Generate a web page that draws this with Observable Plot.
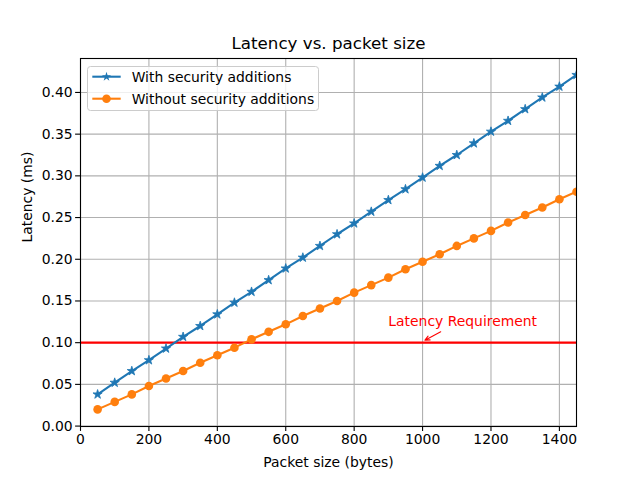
<!DOCTYPE html>
<html>
<head>
<meta charset="utf-8">
<script src="https://cdn.jsdelivr.net/npm/d3@7"></script>
<script src="https://cdn.jsdelivr.net/npm/@observablehq/plot@0.6"></script>
<style>
  html, body { margin: 0; padding: 0; background: white; }
  #wrap { position: relative; width: 640px; height: 480px; font-family: "DejaVu Sans", sans-serif; }
  #legend { position: absolute; left: 87px; top: 66px; }
</style>
</head>
<body>
<div id="wrap"></div>
<script>
// ---- data ----
const packetSizes = [50, 100, 150, 200, 250, 300, 350, 400, 450, 500, 550, 600, 650, 700, 750,
  800, 850, 900, 950, 1000, 1050, 1100, 1150, 1200, 1250, 1300, 1350, 1400, 1450];
const withSecurity = [0.038, 0.052, 0.066, 0.079, 0.093, 0.107, 0.120, 0.134, 0.148, 0.161, 0.175,
  0.189, 0.202, 0.216, 0.230, 0.243, 0.257, 0.271, 0.284, 0.298, 0.312, 0.325, 0.339, 0.353,
  0.366, 0.380, 0.394, 0.407, 0.421];
const withoutSecurity = [0.020, 0.029, 0.038, 0.048, 0.057, 0.066, 0.076, 0.085, 0.094, 0.104, 0.113,
  0.122, 0.132, 0.141, 0.150, 0.160, 0.169, 0.178, 0.188, 0.197, 0.206, 0.216, 0.225, 0.234,
  0.244, 0.253, 0.262, 0.272, 0.281];
const seriesNames = ["With security additions", "Without security additions"];
const xTicks = [0, 200, 400, 600, 800, 1000, 1200, 1400];
const yTicks = [0.00, 0.05, 0.10, 0.15, 0.20, 0.25, 0.30, 0.35, 0.40];
const requirement = [0.10];
const annotationLabel = ["Latency Requirement"];
const annotationTarget = [1007, 0.103];
const annotationTextAt = [900, 0.12];
const arrowFrom = [1053, 0.113];
const titleText = "Latency vs. packet size";
const xLabel = "Packet size (bytes)";
const yLabel = "Latency (ms)";

const blue = "#1f77b4", orange = "#ff7f0e";
const withRows = packetSizes.map((x, i) => ({x, y: withSecurity[i]}));
const withoutRows = packetSizes.map((x, i) => ({x, y: withoutSecurity[i]}));
const annRows = [{x: annotationTextAt[0], y: annotationTextAt[1], text: annotationLabel[0],
  x1: arrowFrom[0], y1: arrowFrom[1], x2: annotationTarget[0], y2: annotationTarget[1]}];

const fs = 13.9;
const chart = Plot.plot({
  width: 640, height: 480,
  marginLeft: 80, marginRight: 64, marginTop: 58, marginBottom: 54,
  x: {domain: [0, 1450]},
  y: {domain: [-0.0005, 0.4407]},
  style: {fontFamily: "DejaVu Sans", fontSize: fs + "px", background: "white", color: "black"},
  marks: [
    Plot.gridX(xTicks, {stroke: "#b0b0b0", strokeOpacity: 1, strokeWidth: 1.1}),
    Plot.gridY(yTicks, {stroke: "#b0b0b0", strokeOpacity: 1, strokeWidth: 1.1}),
    Plot.ruleY(requirement, {stroke: "red", strokeWidth: 2.1}),
    Plot.line(withRows, {x: "x", y: "y", stroke: blue, strokeWidth: 2.1, clip: true}),
    Plot.dot(withRows, {x: "x", y: "y", symbol: "star", r: 2.9, fill: blue, stroke: blue, strokeWidth: 0.8, clip: true}),
    Plot.line(withoutRows, {x: "x", y: "y", stroke: orange, strokeWidth: 2.1, clip: true}),
    Plot.dot(withoutRows, {x: "x", y: "y", r: 4.3, fill: orange, stroke: "none", clip: true}),
    Plot.text(annRows, {x: "x", y: "y", text: "text", fill: "red", textAnchor: "start", lineAnchor: "bottom", fontSize: fs}),
    Plot.arrow(annRows, {x1: "x1", y1: "y1", x2: "x2", y2: "y2", stroke: "red", strokeWidth: 1.1, headLength: 7, headAngle: 50}),
    Plot.frame({stroke: "black", strokeWidth: 1.1}),
    Plot.axisX(xTicks, {tickSize: 4.9, tickPadding: 3, label: null, fontSize: fs, strokeWidth: 1.1, tickFormat: d3.format("d")}),
    Plot.axisY(yTicks, {tickSize: 4.9, tickPadding: 3, label: null, fontSize: fs, strokeWidth: 1.1, tickFormat: d3.format(".2f")}),
    Plot.text([titleText], {frameAnchor: "top", dy: -15, text: d => d, fontSize: 16.7, lineAnchor: "middle"}),
    Plot.text([xLabel], {frameAnchor: "bottom", dy: 36, text: d => d, fontSize: fs, lineAnchor: "middle"}),
    Plot.text([yLabel], {frameAnchor: "left", dx: -53, rotate: -90, text: d => d, fontSize: fs, lineAnchor: "middle"})
  ]
});
const wrap = document.getElementById("wrap");
wrap.appendChild(chart);

// ---- legend (overlay) ----
const lg = d3.select(wrap).append("svg").attr("id", "legend")
  .attr("width", 233).attr("height", 46)
  .style("font-family", "DejaVu Sans").style("font-size", fs + "px");
lg.append("rect").attr("x", 0.5).attr("y", 0.5).attr("width", 231).attr("height", 44)
  .attr("rx", 3).attr("fill", "white").attr("fill-opacity", 0.8).attr("stroke", "#cccccc");
const rowsL = [
  {name: seriesNames[0], color: blue, sym: d3.symbolStar, size: Math.PI * 2.9 * 2.9, y: 10.7},
  {name: seriesNames[1], color: orange, sym: d3.symbolCircle, size: Math.PI * 4.3 * 4.3, y: 32.7}
];
for (const r of rowsL) {
  lg.append("line").attr("x1", 5.3).attr("x2", 33.7).attr("y1", r.y).attr("y2", r.y)
    .attr("stroke", r.color).attr("stroke-width", 2.1);
  lg.append("path").attr("d", d3.symbol(r.sym, r.size)()).attr("transform", `translate(19.5,${r.y})`)
    .attr("fill", r.color);
  lg.append("text").attr("x", 44.7).attr("y", r.y).attr("dy", "0.35em").attr("fill", "black").text(r.name);
}
</script>
</body>
</html>
